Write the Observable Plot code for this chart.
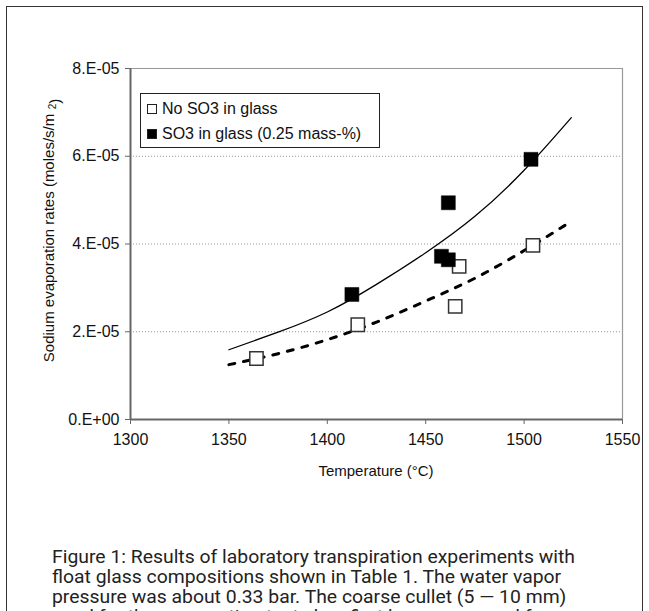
<!DOCTYPE html>
<html>
<head>
<meta charset="utf-8">
<script src="https://cdn.jsdelivr.net/npm/d3@7"></script>
<script src="https://cdn.jsdelivr.net/npm/@observablehq/plot@0.6"></script>
<style>
  html, body { margin: 0; padding: 0; background: #fff; }
  body { width: 649px; height: 611px; position: relative; overflow: hidden; }
  #frame { position: absolute; left: 6px; top: 6px; width: 637px; height: 700px; border: 1.6px solid #333; box-sizing: border-box; }
  #chart { position: absolute; left: 0; top: 0; }
  .lbl { position: absolute; font-family: "Liberation Sans", Arial, sans-serif; font-size: 15px; color: #111; white-space: nowrap; line-height: 1; }
  #ytitle { left: 48px; top: 238px; transform: translate(-50%, -50%) rotate(-90deg); }
  #ysup { left: 54px; top: 104px; transform: translate(-50%, -50%) rotate(-90deg); }
  #ysup .two { font-size: 10px; vertical-align: 4px; }
  #xtitle { left: 376px; top: 470px; transform: translate(-50%, -50%); }
  #legend { position: absolute; left: 140px; top: 93px; width: 240px; height: 55px; border: 1.4px solid #222; box-sizing: border-box; background: #fff; font-family: "Liberation Sans", Arial, sans-serif; font-size: 16px; color: #111; }
  #legend .row { position: absolute; left: 6px; white-space: nowrap; line-height: 18px; }
  #legend .sw { display: inline-block; width: 10px; height: 10px; box-sizing: border-box; border: 1.2px solid #222; margin-right: 5px; vertical-align: 0px; }
  #caption { position: absolute; left: 52px; top: 547px; font-family: Roboto, "Liberation Sans", sans-serif; font-size: 18px; line-height: 20px; color: #222; transform-origin: 0 0; white-space: nowrap; }
</style>
</head>
<body>
<div id="frame"></div>
<div id="chart"></div>
<div id="ytitle" class="lbl">Sodium evaporation rates (moles/s/m</div>
<div id="ysup" class="lbl"><span class="two">2</span>)</div>
<div id="xtitle" class="lbl">Temperature (°C)</div>
<div id="legend">
  <div class="row" style="top:6px"><span class="sw" style="background:#fff"></span>No SO3 in glass</div>
  <div class="row" style="top:31px"><span class="sw" style="background:#000"></span>SO3 in glass (0.25 mass-%)</div>
</div>
<div id="caption"><span id="cap1">Figure 1: Results of laboratory transpiration experiments with</span><br>float glass compositions shown in Table 1. The water vapor<br>pressure was about 0.33 bar. The coarse cullet (5 — 10 mm)<br>used for the evaporation tests has first been preserved for</div>
<script>
// Measured points: temperature (°C) and sodium evaporation rate (moles/s/m2)
const noSO3Temp = [1364, 1415.5, 1465, 1467, 1504.5];
const noSO3Rate = [1.39e-5, 2.16e-5, 2.58e-5, 3.49e-5, 3.97e-5];
const so3Temp = [1412.5, 1458, 1461.5, 1461.5, 1503.5];
const so3Rate = [2.85e-5, 3.72e-5, 3.64e-5, 4.94e-5, 5.93e-5];

// Trend lines
const so3TrendTemp = [1350, 1375, 1400, 1425, 1450, 1475, 1500, 1524];
const so3TrendRate = [1.59e-5, 1.99e-5, 2.45e-5, 3.08e-5, 3.80e-5, 4.63e-5, 5.68e-5, 6.88e-5];
const noSO3TrendTemp = [1350, 1375, 1400, 1425, 1450, 1475, 1500, 1522];
const noSO3TrendRate = [1.25e-5, 1.50e-5, 1.82e-5, 2.22e-5, 2.70e-5, 3.22e-5, 3.85e-5, 4.46e-5];

// Axis ticks
const xTicks = [1300, 1350, 1400, 1450, 1500, 1550];
const yTicks = [0, 2e-5, 4e-5, 6e-5, 8e-5];
const yTickLabels = ["0.E+00", "2.E-05", "4.E-05", "6.E-05", "8.E-05"];
const gridTicks = [2e-5, 4e-5, 6e-5];

const zip = (xs, ys) => xs.map((x, i) => ({x, y: ys[i]}));
const noSO3 = zip(noSO3Temp, noSO3Rate);
const so3 = zip(so3Temp, so3Rate);
const so3Trend = zip(so3TrendTemp, so3TrendRate);
const noSO3Trend = zip(noSO3TrendTemp, noSO3TrendRate);

const chart = Plot.plot({
  width: 649,
  height: 500,
  marginLeft: 130,
  marginRight: 27,
  marginTop: 68,
  marginBottom: 81,
  style: {fontFamily: "Liberation Sans, Arial, sans-serif", fontSize: "16px", color: "#111", background: "transparent"},
  x: {domain: [1300, 1550]},
  y: {domain: [0, 8e-5]},
  marks: [
    Plot.ruleY(gridTicks, {stroke: "#999", strokeWidth: 1, strokeDasharray: "1,2"}),
    Plot.ruleY([8e-5], {stroke: "#999", strokeWidth: 1.2}),
    Plot.ruleX([1550], {stroke: "#999", strokeWidth: 1.2}),
    Plot.axisX({ticks: xTicks, tickFormat: d => String(d), tickSize: 5, tickPadding: 9, label: null, stroke: "#666"}),
    Plot.axisY({ticks: yTicks, tickFormat: (d, i) => yTickLabels[i], tickSize: 5, tickPadding: 6, label: null, stroke: "#666"}),
    Plot.ruleX([1300], {stroke: "#666", strokeWidth: 2}),
    Plot.ruleY([0], {stroke: "#666", strokeWidth: 2}),
    Plot.line(so3Trend, {x: "x", y: "y", curve: "natural", stroke: "#000", strokeWidth: 1.3}),
    Plot.line(noSO3Trend, {x: "x", y: "y", curve: "natural", stroke: "#000", strokeWidth: 3, strokeDasharray: "6,9"}),
    Plot.dot(noSO3, {x: "x", y: "y", symbol: "square", r: 7.5, fill: "#fff", stroke: "#333", strokeWidth: 1.5}),
    Plot.dot(so3, {x: "x", y: "y", symbol: "square", r: 7.9, fill: "#000", stroke: "#000", strokeWidth: 0.5})
  ]
});
document.getElementById("chart").appendChild(chart);

// Fit the condensed caption to the reference line width
const cap = document.getElementById("caption");
const w = document.getElementById("cap1").getBoundingClientRect().width;
cap.style.transform = `scaleX(${523 / w})`;
</script>
</body>
</html>
